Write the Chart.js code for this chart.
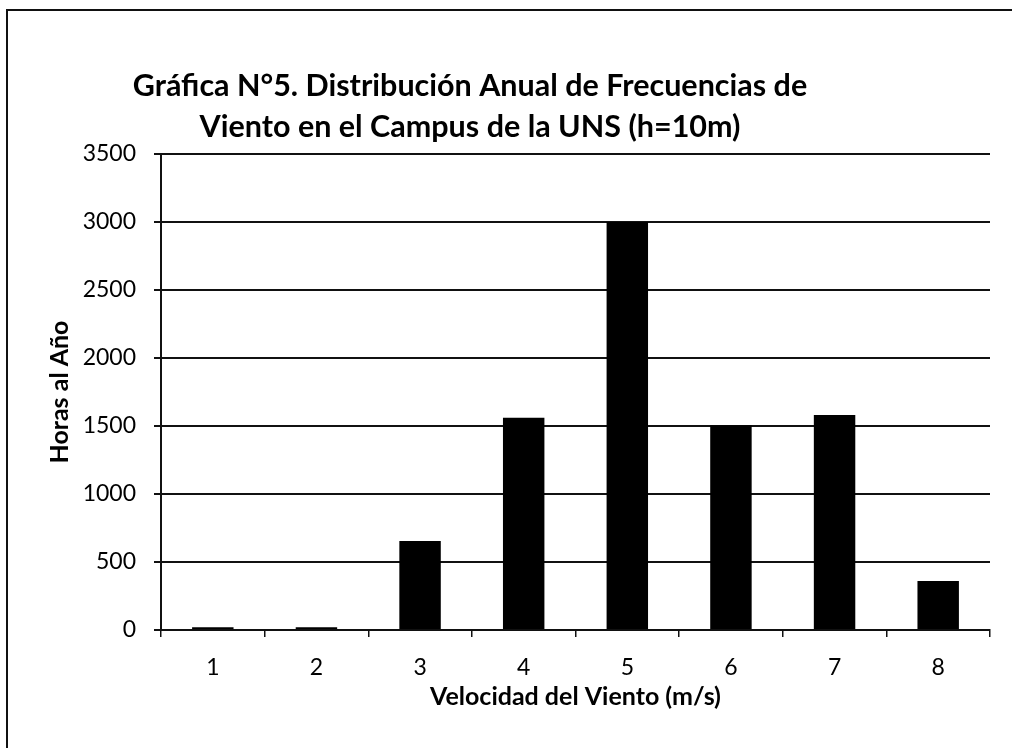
<!DOCTYPE html>
<html>
<head>
<meta charset="utf-8">
<script src="https://cdn.jsdelivr.net/npm/chart.js@4.4.0/dist/chart.umd.min.js"></script>
<style>
  html, body { margin: 0; padding: 0; background: #fff; }
  #wrap { width: 1012px; height: 748px; position: relative; }
</style>
</head>
<body>
<div id="wrap"><canvas id="windChart" width="1012" height="748"></canvas></div>
<script>
const velocidades = ['1', '2', '3', '4', '5', '6', '7', '8'];
const horasAlAno = [20, 20, 655, 1560, 3000, 1505, 1580, 360];
const yTicks = [0, 500, 1000, 1500, 2000, 2500, 3000, 3500];
const tituloLineas = [
  'Gráfica N°5. Distribución Anual de Frecuencias de',
  'Viento en el Campus de la UNS (h=10m)'
];

const FONT = 'Lato, "Open Sans", sans-serif';
const INK = '#111';

// outer frame and two-line heading, drawn straight on the canvas
const framePlugin = {
  id: 'frameAndTitle',
  beforeDraw(chart) {
    const c = chart.ctx;
    c.save();
    c.fillStyle = '#fff';
    c.fillRect(0, 0, chart.width, chart.height);
    c.strokeStyle = INK;
    c.lineWidth = 2;
    c.beginPath();
    c.moveTo(7, chart.height);
    c.lineTo(7, 10);
    c.lineTo(chart.width, 10);
    c.stroke();
    c.restore();
  },
  afterDraw(chart) {
    const c = chart.ctx;
    c.save();
    c.fillStyle = '#000';
    c.font = 'bold 30.5px ' + FONT;
    c.textAlign = 'center';
    c.textBaseline = 'middle';
    c.fillText(tituloLineas[0], 470, 86);
    c.fillText(tituloLineas[1], 470, 127);
    c.restore();
  }
};

new Chart(document.getElementById('windChart').getContext('2d'), {
  type: 'bar',
  data: {
    labels: velocidades,
    datasets: [{
      label: 'Horas al Año',
      data: horasAlAno,
      backgroundColor: '#000',
      borderWidth: 0,
      barPercentage: 0.4,
      categoryPercentage: 1
    }]
  },
  options: {
    responsive: false,
    animation: false,
    layout: { padding: { left: 30, right: 22, top: 154, bottom: 0 } },
    plugins: {
      legend: { display: false },
      tooltip: { enabled: false }
    },
    scales: {
      x: {
        afterFit(scale) { scale.height = 118; },
        grid: {
          offset: true,
          drawOnChartArea: false,
          color: INK,
          lineWidth: 1.5,
          tickLength: 7
        },
        border: { color: INK, width: 2 },
        ticks: {
          color: '#000',
          padding: 17,
          font: { family: FONT, size: 23 }
        },
        title: {
          display: true,
          text: 'Velocidad del Viento (m/s)',
          color: '#000',
          padding: { top: 0, bottom: 36 },
          font: { family: FONT, size: 25, weight: 'bold' }
        }
      },
      y: {
        min: 0,
        max: 3500,
        afterFit(scale) { scale.width = 131; },
        afterBuildTicks(scale) { scale.ticks = yTicks.map(v => ({ value: v })); },
        grid: {
          color: INK,
          lineWidth: 2,
          tickLength: 7
        },
        border: { color: INK, width: 2 },
        ticks: {
          color: '#000',
          padding: 18,
          font: { family: FONT, size: 23 },
          callback: v => String(v)
        },
        title: {
          display: true,
          text: 'Horas al Año',
          color: '#000',
          padding: { top: 15, bottom: 0 },
          font: { family: FONT, size: 25, weight: 'bold' }
        }
      }
    }
  },
  plugins: [framePlugin]
});
</script>
</body>
</html>
